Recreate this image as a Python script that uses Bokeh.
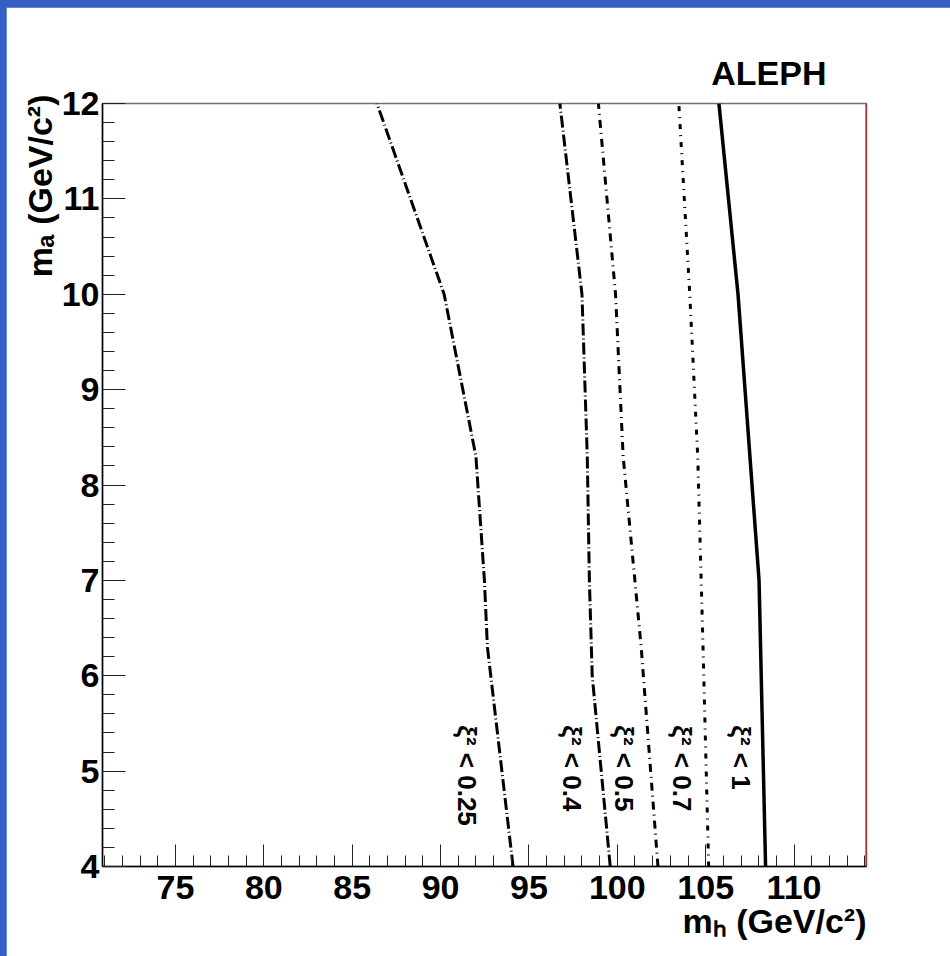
import math
from bokeh.plotting import figure
from bokeh.models import Span, FixedTicker, Range1d, Title
from bokeh.layouts import column
from bokeh.core.properties import value
from bokeh.embed import file_html
from bokeh.resources import INLINE

# ---------------- data ----------------
x_lo, x_hi = 70.87, 114.1
y_lo, y_hi = 4.0, 12.0
x_major_ticks = [75, 80, 85, 90, 95, 100, 105, 110]
x_minor_ticks = list(range(71, 115))
y_major_ticks = [4, 5, 6, 7, 8, 9, 10, 11, 12]
y_minor_ticks = [round(4 + 0.2 * i, 1) for i in range(41)]

x_title = "mₕ (GeV/c²)"
y_title = "mₐ (GeV/c²)"
tag = "ALEPH"

# xi^2 < 0.25
ma_025 = [4.0, 6.3, 7.0, 8.3, 10.0, 12.0]
mh_025 = [94.1, 92.65, 92.48, 92.0, 90.2, 86.4]
# xi^2 < 0.4
ma_04 = [4.0, 6.0, 7.0, 8.3, 10.0, 12.0]
mh_04 = [99.6, 98.58, 98.42, 98.3, 98.0, 96.75]
# xi^2 < 0.5
ma_05 = [4.0, 6.3, 8.3, 10.0, 12.0]
mh_05 = [102.3, 101.35, 100.33, 99.9, 98.93]
# xi^2 < 0.7
ma_07 = [4.0, 6.3, 8.3, 10.0, 12.0]
mh_07 = [105.17, 104.85, 104.55, 104.1, 103.48]
# xi^2 < 1
ma_1 = [4.0, 7.0, 10.0, 12.0]
mh_1 = [108.39, 108.02, 106.83, 105.75]

curve_labels = ["ξ² < 0.25", "ξ² < 0.4", "ξ² < 0.5", "ξ² < 0.7", "ξ² < 1"]
label_mh = [91.5, 97.45, 100.36, 103.68, 106.98]
label_ma = [5.48, 5.48, 5.48, 5.48, 5.48]

# ---------------- styling ----------------
FONT = "Liberation Sans"
BLUE = "#3460c6"
T = 34

p = figure(width=944, height=949,
           x_range=Range1d(x_lo, x_hi), y_range=Range1d(y_lo, y_hi),
           output_backend="svg", toolbar_location=None,
           min_border_left=96, min_border_right=84,
           min_border_top=96, min_border_bottom=90)
p.margin = (7, 0, 0, 6)
p.grid.visible = False
p.background_fill_color = "white"
p.border_fill_color = "white"
p.outline_line_color = "#707070"
p.outline_line_width = 1.5

for ax, maj, mnr, mt, mn in ((p.xaxis[0], x_major_ticks, x_minor_ticks, 22, 11),
                             (p.yaxis[0], y_major_ticks, y_minor_ticks, 23, 12)):
    ax.ticker = FixedTicker(ticks=maj, minor_ticks=mnr)
    ax.major_tick_in = mt
    ax.major_tick_out = 0
    ax.minor_tick_in = mn
    ax.minor_tick_out = 0
    ax.major_tick_line_color = "#222222"
    ax.minor_tick_line_color = "#222222"
    ax.axis_line_color = "black"
    ax.axis_line_width = 1.5
    ax.major_label_text_font = FONT
    ax.major_label_text_font_style = "bold"
    ax.major_label_text_font_size = f"{T}px"
    ax.major_label_text_color = "black"
p.xaxis[0].major_label_standoff = 9
p.yaxis[0].major_label_standoff = 3


def make_title(text, align, offset, standoff, valign):
    return Title(text=text, align=align, offset=offset, standoff=standoff,
                 vertical_align=valign, text_font=FONT, text_font_style="bold",
                 text_font_size=f"{T}px", text_color="black")


p.add_layout(make_title(x_title, "right", 0, 0, "top"), "below")
p.add_layout(make_title(y_title, "right", -9, 0, "bottom"), "left")

p.title.text = tag
p.title.align = "right"
p.title.offset = 40
p.title.standoff = 19
p.title.vertical_align = "top"
p.title.text_font = FONT
p.title.text_font_style = "bold"
p.title.text_font_size = f"{T}px"
p.title.text_color = "black"

p.add_layout(Span(location=x_hi, dimension="height", line_color="#e00000", line_width=2))

# curves
curves = [(mh_025, ma_025, "12 3 1 3", 3),
          (mh_04, ma_04, "12 3 1 3", 3),
          (mh_05, ma_05, "8 5 1 5", 3),
          (mh_07, ma_07, "5 6 1 6", 3),
          (mh_1, ma_1, "solid", 3.5)]
for xs, ys, dash, lw in curves:
    p.line(xs, ys, line_color="black", line_width=lw, line_dash=dash, line_cap="butt")

p.text(x=label_mh, y=label_ma, text=curve_labels, angle=-math.pi / 2,
       text_align="left", text_baseline="middle", text_color="black",
       text_font=value(FONT), text_font_style="bold", text_font_size="26px")

layout = column(p, styles={"background-color": BLUE})
open("out.html", "w").write(file_html(layout, INLINE))
